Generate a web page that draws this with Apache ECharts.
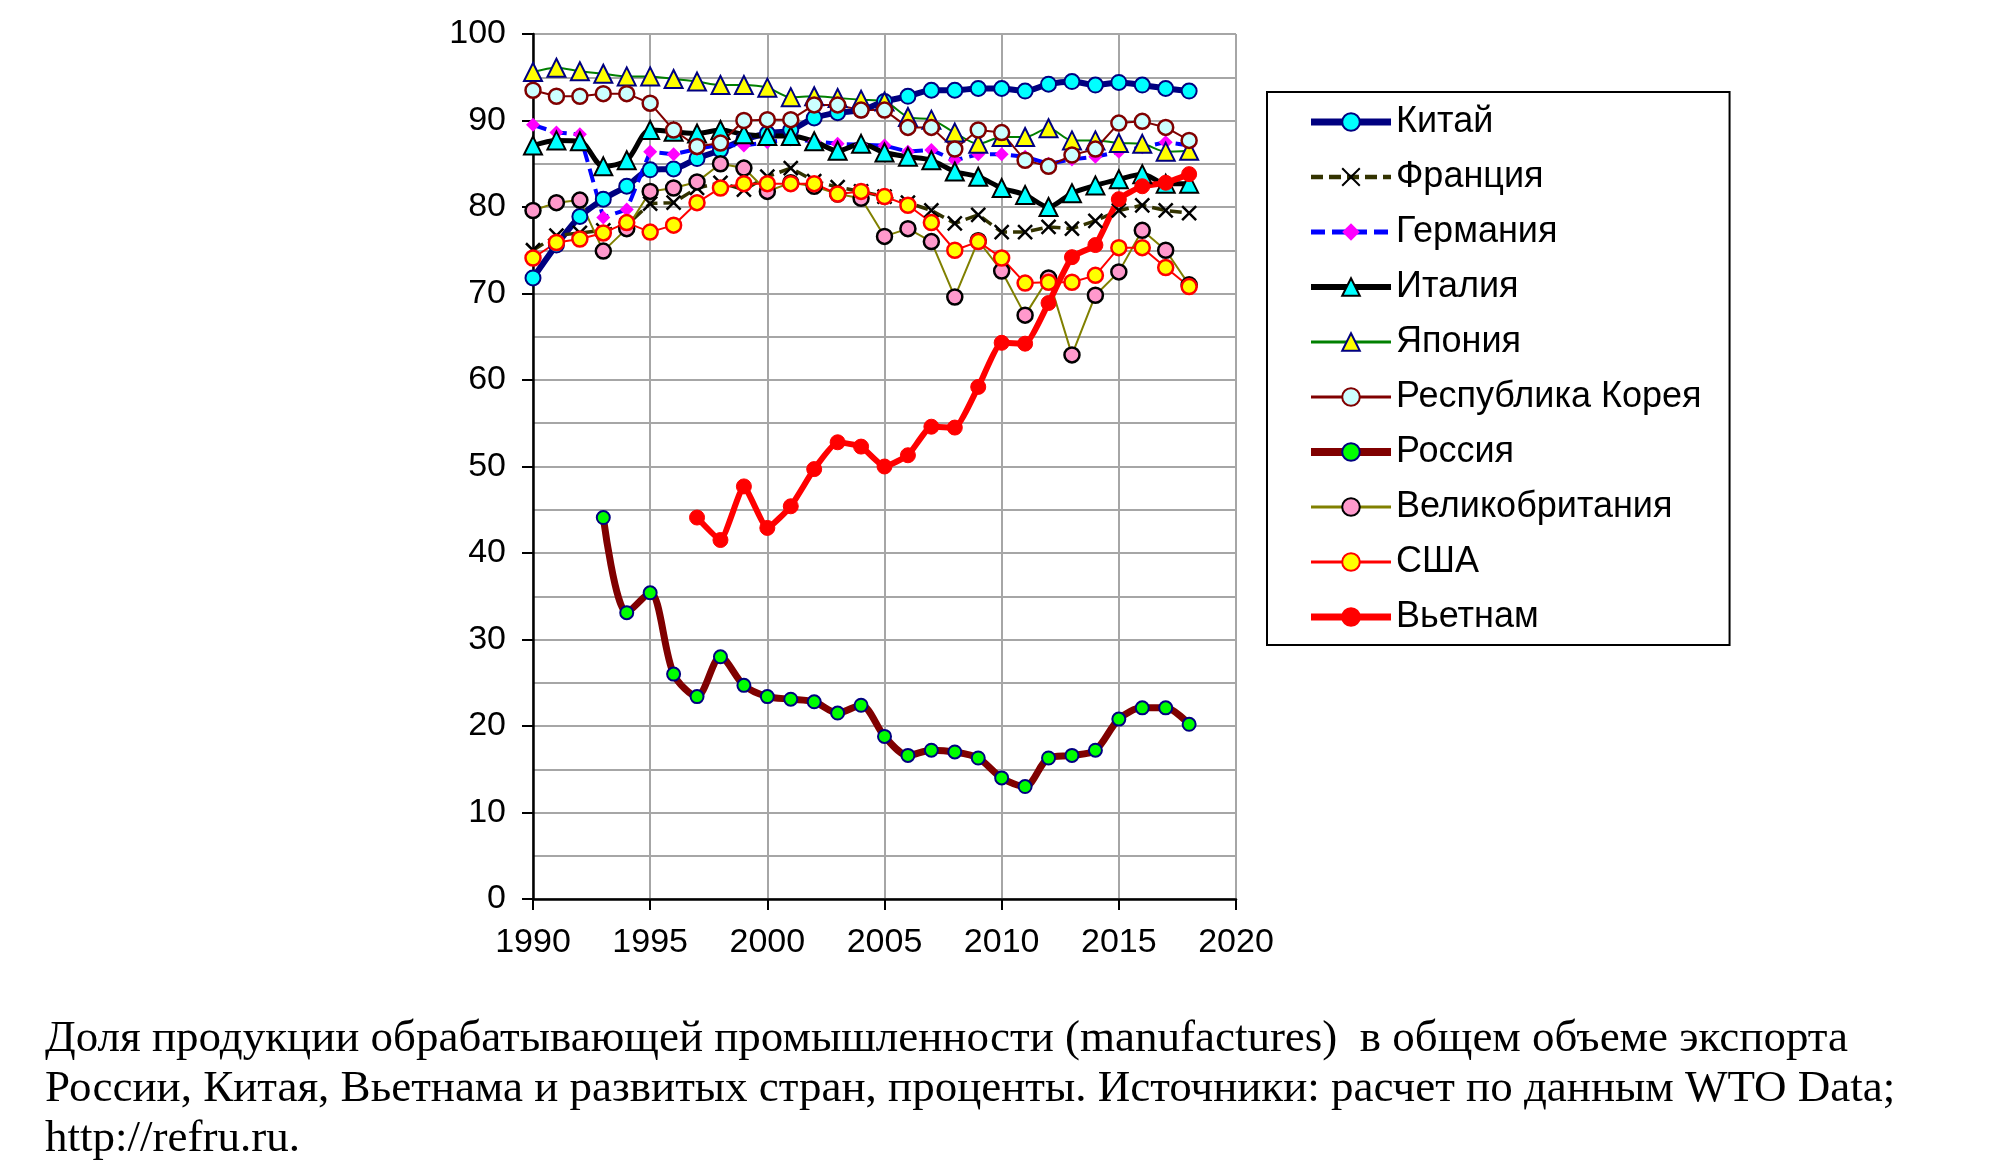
<!DOCTYPE html>
<html>
<head>
<meta charset="utf-8">
<script src="https://cdn.jsdelivr.net/npm/echarts@6/dist/echarts.min.js"></script>
<style>
  html, body { margin: 0; padding: 0; background: #fff; }
  #chart { width: 2000px; height: 1174px; }
</style>
</head>
<body>
<div id="chart"></div>
<script>
const years = [1990, 1991, 1992, 1993, 1994, 1995, 1996, 1997, 1998, 1999,
  2000, 2001, 2002, 2003, 2004, 2005, 2006, 2007, 2008, 2009,
  2010, 2011, 2012, 2013, 2014, 2015, 2016, 2017, 2018];

const china   = [71.8, 75.6, 78.9, 80.9, 82.4, 84.3, 84.4, 85.6, 86.6, 87.8, 88.5, 88.9, 90.3, 90.9, 91.2, 92.2, 92.8, 93.5, 93.5, 93.7, 93.7, 93.4, 94.2, 94.5, 94.1, 94.4, 94.1, 93.7, 93.4];
const france  = [75.0, 76.7, 77.0, 77.3, 77.9, 80.4, 80.5, 82.2, 82.8, 82.0, 83.5, 84.5, 83.0, 82.3, 81.8, 81.2, 80.5, 79.6, 78.1, 79.1, 77.1, 77.1, 77.7, 77.5, 78.4, 79.6, 80.2, 79.6, 79.3];
const germany = [89.5, 88.6, 88.4, 78.8, 79.7, 86.4, 86.1, 86.7, 87.2, 87.1, 87.5, 87.8, 87.6, 87.3, 87.2, 87.1, 86.4, 86.6, 85.4, 86.1, 86.1, 85.8, 85.0, 85.5, 85.8, 86.4, 86.9, 87.5, 87.1];
const italy   = [87.1, 87.7, 87.6, 84.7, 85.4, 88.9, 88.7, 88.5, 88.9, 88.4, 88.2, 88.2, 87.6, 86.5, 87.3, 86.3, 85.8, 85.4, 84.1, 83.5, 82.2, 81.4, 80.0, 81.6, 82.5, 83.2, 83.8, 82.7, 82.7];
const japan   = [95.6, 96.1, 95.7, 95.4, 95.1, 95.1, 94.8, 94.5, 94.1, 94.1, 93.8, 92.7, 92.8, 92.6, 92.4, 92.2, 90.4, 90.1, 88.6, 87.3, 88.1, 88.1, 89.1, 87.7, 87.7, 87.4, 87.3, 86.4, 86.5];
const korea   = [93.5, 92.8, 92.8, 93.1, 93.1, 92.0, 88.9, 87.0, 87.4, 90.0, 90.1, 90.1, 91.8, 91.8, 91.2, 91.2, 89.2, 89.2, 86.7, 88.9, 88.6, 85.4, 84.7, 86.0, 86.7, 89.7, 89.9, 89.2, 87.7];
const russia  = [null, null, null, 44.1, 33.1, 35.4, 26.0, 23.4, 28.0, 24.7, 23.4, 23.1, 22.8, 21.5, 22.4, 18.8, 16.6, 17.2, 17.0, 16.3, 14.0, 13.0, 16.3, 16.6, 17.2, 20.8, 22.1, 22.1, 20.2];
const uk      = [79.6, 80.5, 80.8, 74.9, 77.5, 81.8, 82.2, 82.9, 85.0, 84.5, 81.8, 82.8, 82.4, 81.5, 81.0, 76.6, 77.5, 76.0, 69.6, 76.1, 72.6, 67.5, 71.8, 62.9, 69.8, 72.5, 77.3, 75.0, 71.0];
const usa     = [74.1, 75.9, 76.3, 77.0, 78.2, 77.1, 77.9, 80.5, 82.2, 82.7, 82.7, 82.7, 82.7, 81.5, 81.8, 81.2, 80.2, 78.2, 75.0, 76.0, 74.1, 71.2, 71.3, 71.3, 72.1, 75.3, 75.3, 73.0, 70.8];
const vietnam = [null, null, null, null, null, null, null, 44.1, 41.5, 47.7, 42.9, 45.4, 49.7, 52.8, 52.3, 50.0, 51.3, 54.6, 54.5, 59.2, 64.3, 64.2, 68.9, 74.2, 75.6, 80.9, 82.4, 82.8, 83.8];

const captionLines = [
  'Доля продукции обрабатывающей промышленности (manufactures)  в общем объеме экспорта',
  'России, Китая, Вьетнама и развитых стран, проценты. Источники: расчет по данным WTO Data;',
  'http://refru.ru.'
];

const pairs = (vals) => years.map((y, i) => [y, vals[i]]).filter(p => p[1] !== null);

const FONT = 'Liberation Sans';
const GRID_COLOR = '#a6a6a6';
const xMark = 'path://M0,0L10,10M10,0L0,10';

// colours and markers, per country
const looks = {
  'Китай':            { symbol: 'circle', size: 15, fill: '#00FFFF', border: '#000080', borderWidth: 2, line: '#000080', width: 6, smooth: 0.3 },
  'Франция':          { symbol: xMark, size: 14, fill: '#000', border: '#000', borderWidth: 2.5, line: '#333300', width: 3.5, dash: [12, 6] },
  'Германия':         { symbol: 'diamond', size: 14, fill: '#FF00FF', border: '#FF00FF', borderWidth: 0, line: '#0000FF', width: 4, dash: [14, 7] },
  'Италия':           { symbol: 'triangle', size: 18, fill: '#00FFFF', border: '#000', borderWidth: 2, line: '#000', width: 5, smooth: 0.3 },
  'Япония':           { symbol: 'triangle', size: 18, fill: '#FFFF00', border: '#000080', borderWidth: 2, line: '#008000', width: 2, smooth: 0.3 },
  'Республика Корея': { symbol: 'circle', size: 15, fill: '#CCFFFF', border: '#800000', borderWidth: 2.5, line: '#800000', width: 2 },
  'Россия':           { symbol: 'circle', size: 13, fill: '#00FF00', border: '#000080', borderWidth: 2, line: '#800000', width: 7, smooth: 0.3 },
  'Великобритания':   { symbol: 'circle', size: 15, fill: '#FF99CC', border: '#000', borderWidth: 2.5, line: '#808000', width: 2 },
  'США':              { symbol: 'circle', size: 15, fill: '#FFFF00', border: '#FF0000', borderWidth: 2.5, line: '#FF0000', width: 2 },
  'Вьетнам':          { symbol: 'circle', size: 15, fill: '#FF0000', border: '#FF0000', borderWidth: 1, line: '#FF0000', width: 6, smooth: 0.15 }
};

const mkSeries = (name, vals) => {
  const look = looks[name];
  return {
    name,
    type: 'line',
    data: pairs(vals),
    smooth: look.smooth || false,
    symbol: look.symbol,
    symbolSize: look.size,
    showAllSymbol: true,
    lineStyle: {
      color: look.line,
      width: look.width,
      type: look.dash || 'solid'
    },
    itemStyle: {
      color: look.fill,
      borderColor: look.border,
      borderWidth: look.borderWidth
    },
    emphasis: { disabled: true }
  };
};

const seriesList = [
  mkSeries('Китай', china),
  mkSeries('Франция', france),
  mkSeries('Германия', germany),
  mkSeries('Италия', italy),
  mkSeries('Япония', japan),
  mkSeries('Республика Корея', korea),
  mkSeries('Россия', russia),
  mkSeries('Великобритания', uk),
  mkSeries('США', usa),
  mkSeries('Вьетнам', vietnam)
];

const chart = echarts.init(document.getElementById('chart'));

const option = {
  backgroundColor: '#fff',
  animation: false,
  grid: { left: 533, top: 34, width: 703, height: 865 },
  xAxis: {
    type: 'value',
    min: 1990,
    max: 2020,
    interval: 5,
    axisLine: { lineStyle: { color: '#000', width: 2.5 } },
    axisTick: { show: true, length: 11, lineStyle: { color: '#000', width: 2 } },
    axisLabel: { fontSize: 34, fontFamily: FONT, color: '#000', margin: 27, formatter: (v) => String(v) },
    splitLine: { show: true, lineStyle: { color: GRID_COLOR, width: 2 } }
  },
  yAxis: {
    type: 'value',
    min: 0,
    max: 100,
    interval: 10,
    axisLine: { show: true, lineStyle: { color: '#000', width: 2.5 } },
    axisTick: { show: true, length: 11, lineStyle: { color: '#000', width: 2 } },
    axisLabel: { fontSize: 34, fontFamily: FONT, color: '#000', margin: 27 },
    splitLine: { show: true, lineStyle: { color: GRID_COLOR, width: 2 } },
    minorTick: { show: false, splitNumber: 2 },
    minorSplitLine: { show: true, lineStyle: { color: GRID_COLOR, width: 2 } }
  },
  legend: {
    orient: 'vertical',
    left: 1267,
    top: 92,
    padding: [12, 28, 10, 40],
    borderColor: '#000',
    borderWidth: 2,
    itemWidth: 80,
    itemHeight: 22,
    itemGap: 19,
    textStyle: { fontSize: 36, lineHeight: 36, fontFamily: FONT, color: '#000' },
    data: seriesList.map(s => ({
      name: s.name,
      lineStyle: { width: looks[s.name].width + 1 }
    }))
  },
  graphic: [{
    type: 'text',
    left: 45,
    top: 1014,
    style: {
      text: captionLines.join('\n'),
      font: '45px "Liberation Serif"',
      lineHeight: 50,
      fill: '#000'
    }
  }],
  series: seriesList
};

chart.setOption(option);
</script>
</body>
</html>
